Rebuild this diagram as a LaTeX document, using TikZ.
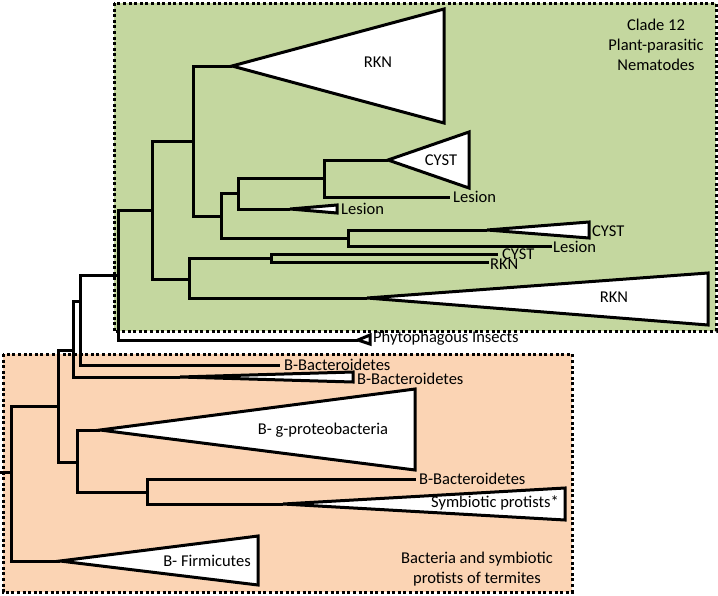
\documentclass[tikz,border=0pt]{standalone}
\usepackage{fontspec}
\setmainfont{Carlito}
\definecolor{cgreen}{HTML}{C4D79F}
\definecolor{corange}{HTML}{FBD4B4}
\begin{document}
\begin{tikzpicture}[x=1pt,y=-1pt,
  branch/.style={line width=3pt, line join=miter},
  tri/.style={draw, fill=white, line width=3pt, line join=miter},
  lab/.style={font=\fontsize{16.5}{20}\selectfont, inner sep=0pt},
  tip/.style={lab, anchor=west},
  box/.style={line width=3pt, dash pattern=on 3pt off 2.6pt}]
\useasboundingbox (0,0) rectangle (718,595);
% clade boxes
\fill[cgreen] (114,3) rectangle (716,331);
\draw[box] (114,3) rectangle (716,331);
\fill[corange] (3,354) rectangle (572,592);
\draw[box] (3,354) rectangle (572,592);
% internal nodes
\coordinate (stub) at (0,472);
\coordinate (R) at (11,472);
\coordinate (A) at (58,406);
\coordinate (B) at (73,350);
\coordinate (C) at (80,301);
\coordinate (D) at (118,275);
\coordinate (E) at (152,210);
\coordinate (F) at (193,141);
\coordinate (H) at (189,279);
\coordinate (I) at (221,216);
\coordinate (J) at (238,193);
\coordinate (K) at (348,238);
\coordinate (L) at (324,178);
\coordinate (M) at (271,258);
\coordinate (G) at (77,462);
\coordinate (N) at (147,492);
% tips
\coordinate (tRKN1) at (232,66);
\coordinate (tCYST1) at (388,160);
\coordinate (tLes1) at (450,197);
\coordinate (tLes2) at (290,209);
\coordinate (tCYST2) at (487,230);
\coordinate (tLes3) at (552,246);
\coordinate (tCYST3) at (498,254);
\coordinate (tRKN3) at (489,262);
\coordinate (tRKN2) at (367,298);
\coordinate (tPhy) at (358,340);
\coordinate (tBB1) at (280,365);
\coordinate (tBB2) at (180,377);
\coordinate (tGP) at (100,430);
\coordinate (tBB3) at (416,479);
\coordinate (tSym) at (283,504);
\coordinate (tFir) at (60,561);
% branches
\draw[branch] (stub) -- (R);
\draw[branch] (R) |- (A);
\draw[branch] (R) |- (tFir);
\draw[branch] (A) |- (B);
\draw[branch] (A) |- (G);
\draw[branch] (B) |- (C);
\draw[branch] (B) |- (tBB2);
\draw[branch] (C) |- (D);
\draw[branch] (C) |- (tBB1);
\draw[branch] (D) |- (E);
\draw[branch] (D) |- (tPhy);
\draw[branch] (E) |- (F);
\draw[branch] (E) |- (H);
\draw[branch] (F) |- (tRKN1);
\draw[branch] (F) |- (I);
\draw[branch] (I) |- (J);
\draw[branch] (I) |- (K);
\draw[branch] (J) |- (L);
\draw[branch] (J) |- (tLes2);
\draw[branch] (L) |- (tCYST1);
\draw[branch] (L) |- (tLes1);
\draw[branch] (K) |- (tCYST2);
\draw[branch] (K) |- (tLes3);
\draw[branch] (H) |- (M);
\draw[branch] (H) |- (tRKN2);
\draw[branch] (M) |- (tCYST3);
\draw[branch] (M) |- (tRKN3);
\draw[branch] (G) |- (tGP);
\draw[branch] (G) |- (N);
\draw[branch] (N) |- (tBB3);
\draw[branch] (N) |- (tSym);
% collapsed clades
\draw[tri] (tRKN1) -- (444,9) -- (444,123) -- cycle;
\draw[tri] (tCYST1) -- (469,132) -- (469,188) -- cycle;
\draw[tri] (tLes2) -- (337,205) -- (337,213) -- cycle;
\draw[tri] (tCYST2) -- (589,222) -- (589,238) -- cycle;
\draw[tri] (tRKN2) -- (708,273) -- (708,325) -- cycle;
\draw[tri] (tPhy) -- (370,335) -- (370,344) -- cycle;
\draw[tri] (tBB2) -- (353,372) -- (353,382) -- cycle;
\draw[tri] (tGP) -- (415,389) -- (415,470) -- cycle;
\draw[tri] (tSym) -- (565,488) -- (565,520) -- cycle;
\draw[tri] (tFir) -- (258,536) -- (258,585) -- cycle;
% labels
\node[lab] (lRKN1) at (378,62) {RKN};
\node[lab] (lCYST1) at (441,160) {CYST};
\node[tip] (lLes1) at (453,197) {Lesion};
\node[tip] (lLes2) at (341,209) {Lesion};
\node[tip] (lCYST2) at (592,231) {CYST};
\node[tip] (lLes3) at (553,247) {Lesion};
\node[tip] (lCYST3) at (502,254) {CYST};
\node[tip] (lRKN3) at (490,264) {RKN};
\node[lab] (lRKN2) at (614,297) {RKN};
\node[tip] (lPhy) at (373,338) {Phytophagous Insects};
\node[tip] (lBB1) at (284,365) {B-Bacteroidetes};
\node[tip] (lBB2) at (357,379) {B-Bacteroidetes};
\node[lab] (lGP) at (323,430) {B- g-proteobacteria};
\node[tip] (lBB3) at (419,479) {B-Bacteroidetes};
\node[lab] (lSym) at (495,503) {Symbiotic protists*};
\node[lab] (lFir) at (207,561) {B- Firmicutes};
\node[lab, align=center] (clade) at (656,45) {Clade 12\\Plant-parasitic\\Nematodes};
\node[lab, align=center] (bact) at (477,569) {Bacteria and symbiotic\\protists of termites};
\end{tikzpicture}
\end{document}
